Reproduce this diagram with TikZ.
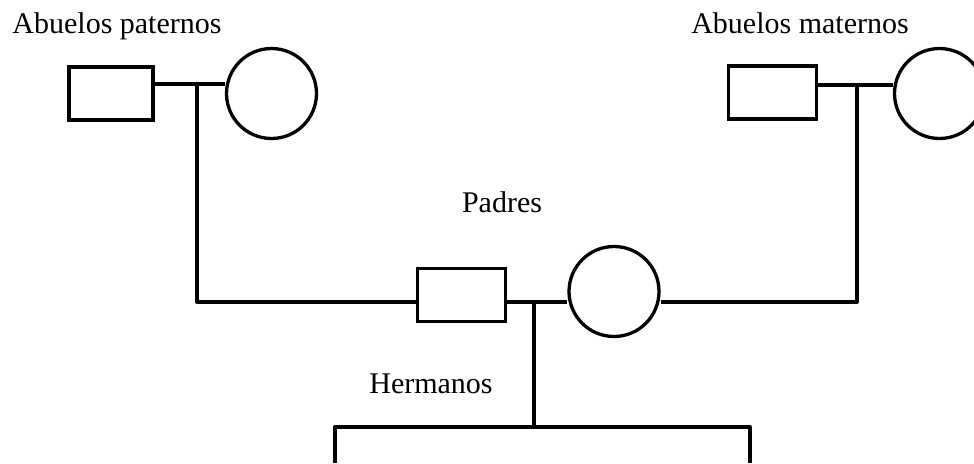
\documentclass[tikz,border=0pt]{standalone}
\usepackage{fontspec}
\setmainfont{Liberation Serif}
\begin{document}
\begin{tikzpicture}[x=1pt,y=-1pt,
  male/.style={draw,line width=3.3pt,minimum width=84pt,minimum height=53pt,inner sep=0pt},
  female/.style={draw,circle,line width=3.3pt,minimum size=90pt,inner sep=0pt},
  lbl/.style={anchor=base,inner sep=0pt,font=\fontsize{30}{36}\selectfont},
  link/.style={line width=3.3pt,line join=round}]
\useasboundingbox (0,0) rectangle (974,463);
\clip (0,0) rectangle (974,463);
% labels
\node[lbl] (tp) at (117,33) {Abuelos paternos};
\node[lbl] (tm) at (800,33) {Abuelos maternos};
\node[lbl] (tpa) at (502,212) {Padres};
\node[lbl] (th) at (431,393) {Hermanos};
% persons
\node[male] (pgf) at (111,93.5) {};
\node[female] (pgm) at (271.5,93.5) {};
\node[male,minimum width=88pt] (mgf) at (772.5,92.5) {};
\node[female] (mgm) at (939.5,93.5) {};
\node[male,minimum width=88pt] (fa) at (461.5,295) {};
\node[female] (mo) at (614,291.5) {};
% junctions
\coordinate (pj) at (197,84);
\coordinate (mj) at (857,85);
\coordinate (cj) at (534,302);
\coordinate (sj) at (534,427);
\coordinate (sl) at (335,463);
\coordinate (sr) at (750,463);
% connectors
\draw[link] (pgf.east |- pj) -- (pgm.west |- pj);
\draw[link] (mgf.east |- mj) -- (mgm.west |- mj);
\draw[link] (fa.east |- cj) -- (mo.west |- cj);
\draw[link] (pj) -- (pj |- cj) -- (fa.west |- cj);
\draw[link] (mj) -- (mj |- cj) -- (mo.east |- cj);
\draw[link] (cj) -- (sj);
\draw[link] (sl) -- (sl |- sj) -- (sr |- sj) -- (sr);
\end{tikzpicture}
\end{document}
